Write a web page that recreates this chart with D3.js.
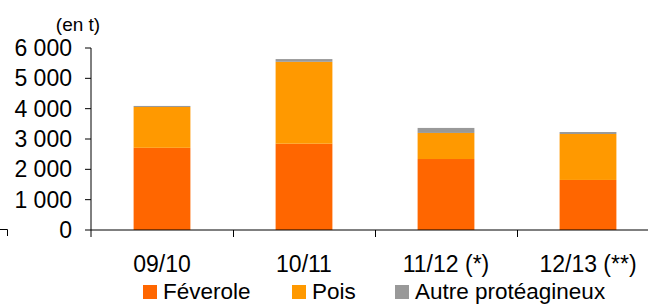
<!DOCTYPE html>
<html>
<head>
<meta charset="utf-8">
<script src="https://cdn.jsdelivr.net/npm/d3@7"></script>
<style>
  body { margin: 0; background: #fff; }
  svg { display: block; }
  text { font-family: Arial, "Liberation Sans", sans-serif; fill: #000; }
</style>
</head>
<body>
<svg id="chart" width="648" height="304"></svg>
<script>
// campaigns on the x axis
const campagnes = ["09/10", "10/11", "11/12 (*)", "12/13 (**)"];
// tonnes per crop
const feverole = [2710, 2845, 2340, 1650];
const pois = [1345, 2700, 860, 1515];
const autre = [35, 90, 165, 65];
const yTicks = [0, 1000, 2000, 3000, 4000, 5000, 6000];
const seriesNames = ["Féverole", "Pois", "Autre protéagineux"];

function drawVis(svgId) {
  let svg = d3.select(svgId);

  let colors = ["#ff6600", "#ff9900", "#999999"];
  let fontSize = 23;

  let rows = campagnes.map((c, i) => ({ cat: c, f: feverole[i], p: pois[i], a: autre[i] }));
  let stack = d3.stack().keys(["f", "p", "a"]);
  let layers = stack(rows);

  let x = d3.scaleBand()
    .domain(campagnes)
    .range([91, 659])
    .padding(0);

  let y = d3.scaleLinear()
    .domain([0, 6000])
    .range([230, 48]);

  let barW = x.bandwidth() * 0.4;

  // stacked bars
  layers.forEach((layer, k) => {
    svg.append("g")
      .selectAll("rect")
      .data(layer)
      .enter().append("rect")
        .attr("x", (d) => x(d.data.cat) + (x.bandwidth() - barW) / 2)
        .attr("width", barW)
        .attr("y", (d) => y(d[1]))
        .attr("height", (d) => y(d[0]) - y(d[1]))
        .style("fill", colors[k]);
  });

  // y axis
  svg.append("line")
    .attr("x1", 91).attr("x2", 91)
    .attr("y1", y(6000)).attr("y2", y(0) + 7)
    .style("stroke", "#000")
    .style("stroke-width", 1);
  yTicks.forEach((t) => {
    svg.append("line")
      .attr("x1", 85).attr("x2", 91)
      .attr("y1", y(t)).attr("y2", y(t))
      .style("stroke", "#000")
      .style("stroke-width", 1);
    svg.append("text")
      .attr("x", 72)
      .attr("y", y(t) + 8)
      .text(d3.format(",")(t).replace(/,/g, "\u00a0"))
      .style("font-size", fontSize)
      .style("text-anchor", "end");
  });

  svg.append("text")
    .attr("x", 78)
    .attr("y", 31)
    .text("(en t)")
    .style("font-size", 19)
    .style("text-anchor", "middle");

  // x axis
  svg.append("line")
    .attr("x1", 91).attr("x2", 648)
    .attr("y1", y(0)).attr("y2", y(0))
    .style("stroke", "#000")
    .style("stroke-width", 1);
  campagnes.slice(1).forEach((c) => {
    svg.append("line")
      .attr("x1", x(c) + 0.5).attr("x2", x(c) + 0.5)
      .attr("y1", y(0)).attr("y2", y(0) + 7)
      .style("stroke", "#000")
      .style("stroke-width", 1);
  });
  campagnes.forEach((c) => {
    svg.append("text")
      .attr("x", x(c) + x.bandwidth() / 2)
      .attr("y", 272)
      .text(c)
      .style("font-size", fontSize)
      .style("text-anchor", "middle");
  });

  // odd little corner mark bottom left
  svg.append("path")
    .attr("d", "M0,229.5H7.5V236")
    .style("fill", "none")
    .style("stroke", "#000")
    .style("stroke-width", 1);

  // legend
  let legendX = [143, 292, 395];
  seriesNames.forEach((name, k) => {
    svg.append("rect")
      .attr("x", legendX[k])
      .attr("y", 285)
      .attr("width", 14)
      .attr("height", 14)
      .style("fill", colors[k]);
    svg.append("text")
      .attr("x", legendX[k] + 20)
      .attr("y", 299)
      .text(name)
      .style("font-size", 22.5);
  });
}

drawVis("#chart");
</script>
</body>
</html>
